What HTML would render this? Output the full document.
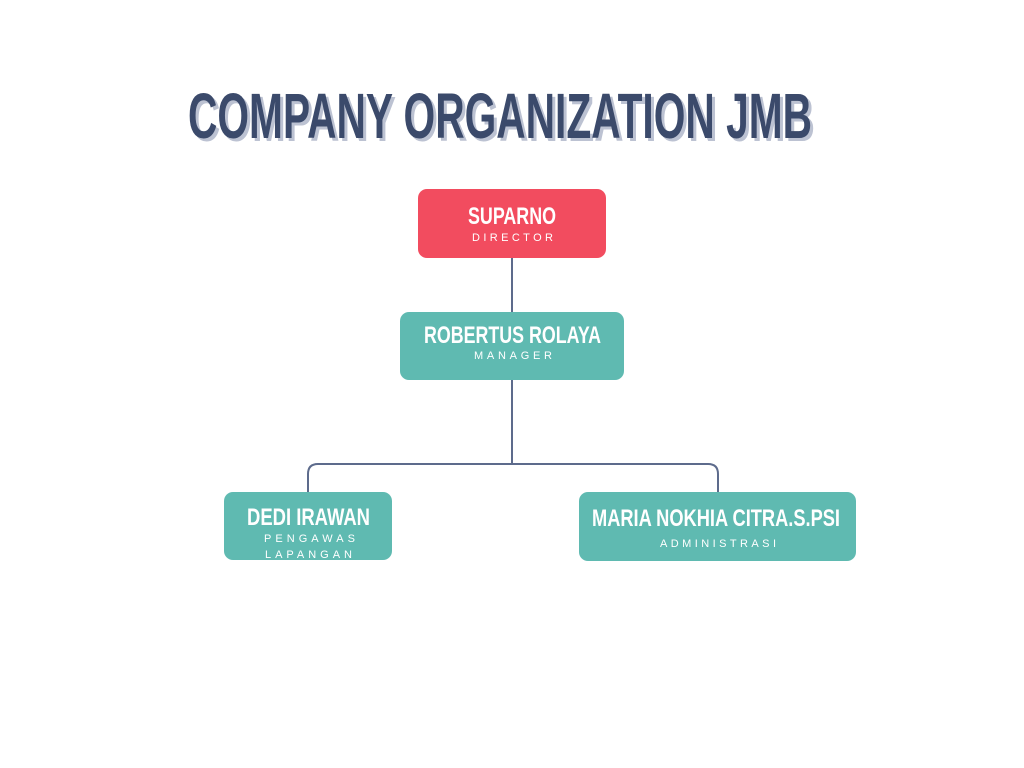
<!DOCTYPE html>
<html><head><meta charset="utf-8"><style>
html,body{margin:0;padding:0;background:#fff;width:1024px;height:768px;overflow:hidden}
</style></head><body>
<svg width="1024" height="768" viewBox="0 0 1024 768" xmlns="http://www.w3.org/2000/svg" font-family="Liberation Sans, sans-serif">
<rect width="1024" height="768" fill="#fff"/>
<text x="191" y="141" font-size="64" font-weight="bold" fill="#bcc2d2" textLength="624" lengthAdjust="spacingAndGlyphs">COMPANY ORGANIZATION JMB</text>
<text x="188" y="138" font-size="64" font-weight="bold" fill="#3b4a6b" textLength="624" lengthAdjust="spacingAndGlyphs">COMPANY ORGANIZATION JMB</text>
<g stroke="#5d6b8c" stroke-width="2" fill="none">
<line x1="512" y1="258" x2="512" y2="312"/>
<line x1="512" y1="380" x2="512" y2="464"/>
<path d="M308 492 V474 Q308 464 318 464 H708 Q718 464 718 474 V492"/>
</g>
<rect x="418" y="189" width="188" height="69" rx="9" fill="#f24c5f"/>
<rect x="400" y="312" width="224" height="68" rx="9" fill="#5fbab1"/>
<rect x="224" y="492" width="168" height="68" rx="9" fill="#5fbab1"/>
<rect x="579" y="492" width="277" height="69" rx="9" fill="#5fbab1"/>
<g fill="#fff" font-weight="bold" font-size="24">
<text x="468" y="224" textLength="88" lengthAdjust="spacingAndGlyphs">SUPARNO</text>
<text x="424" y="343" textLength="177" lengthAdjust="spacingAndGlyphs">ROBERTUS ROLAYA</text>
<text x="247" y="525" textLength="123" lengthAdjust="spacingAndGlyphs">DEDI IRAWAN</text>
<text x="592" y="526" textLength="248" lengthAdjust="spacingAndGlyphs">MARIA NOKHIA CITRA.S.PSI</text>
</g>
<g fill="#fff" font-size="11">
<text x="472" y="241" textLength="81" lengthAdjust="spacing">DIRECTOR</text>
<text x="474" y="359" textLength="78" lengthAdjust="spacing">MANAGER</text>
<text x="264" y="542" textLength="91" lengthAdjust="spacing">PENGAWAS</text>
<text x="265" y="558" textLength="87" lengthAdjust="spacing">LAPANGAN</text>
<text x="660" y="547" textLength="116" lengthAdjust="spacing">ADMINISTRASI</text>
</g>
</svg>
</body></html>
